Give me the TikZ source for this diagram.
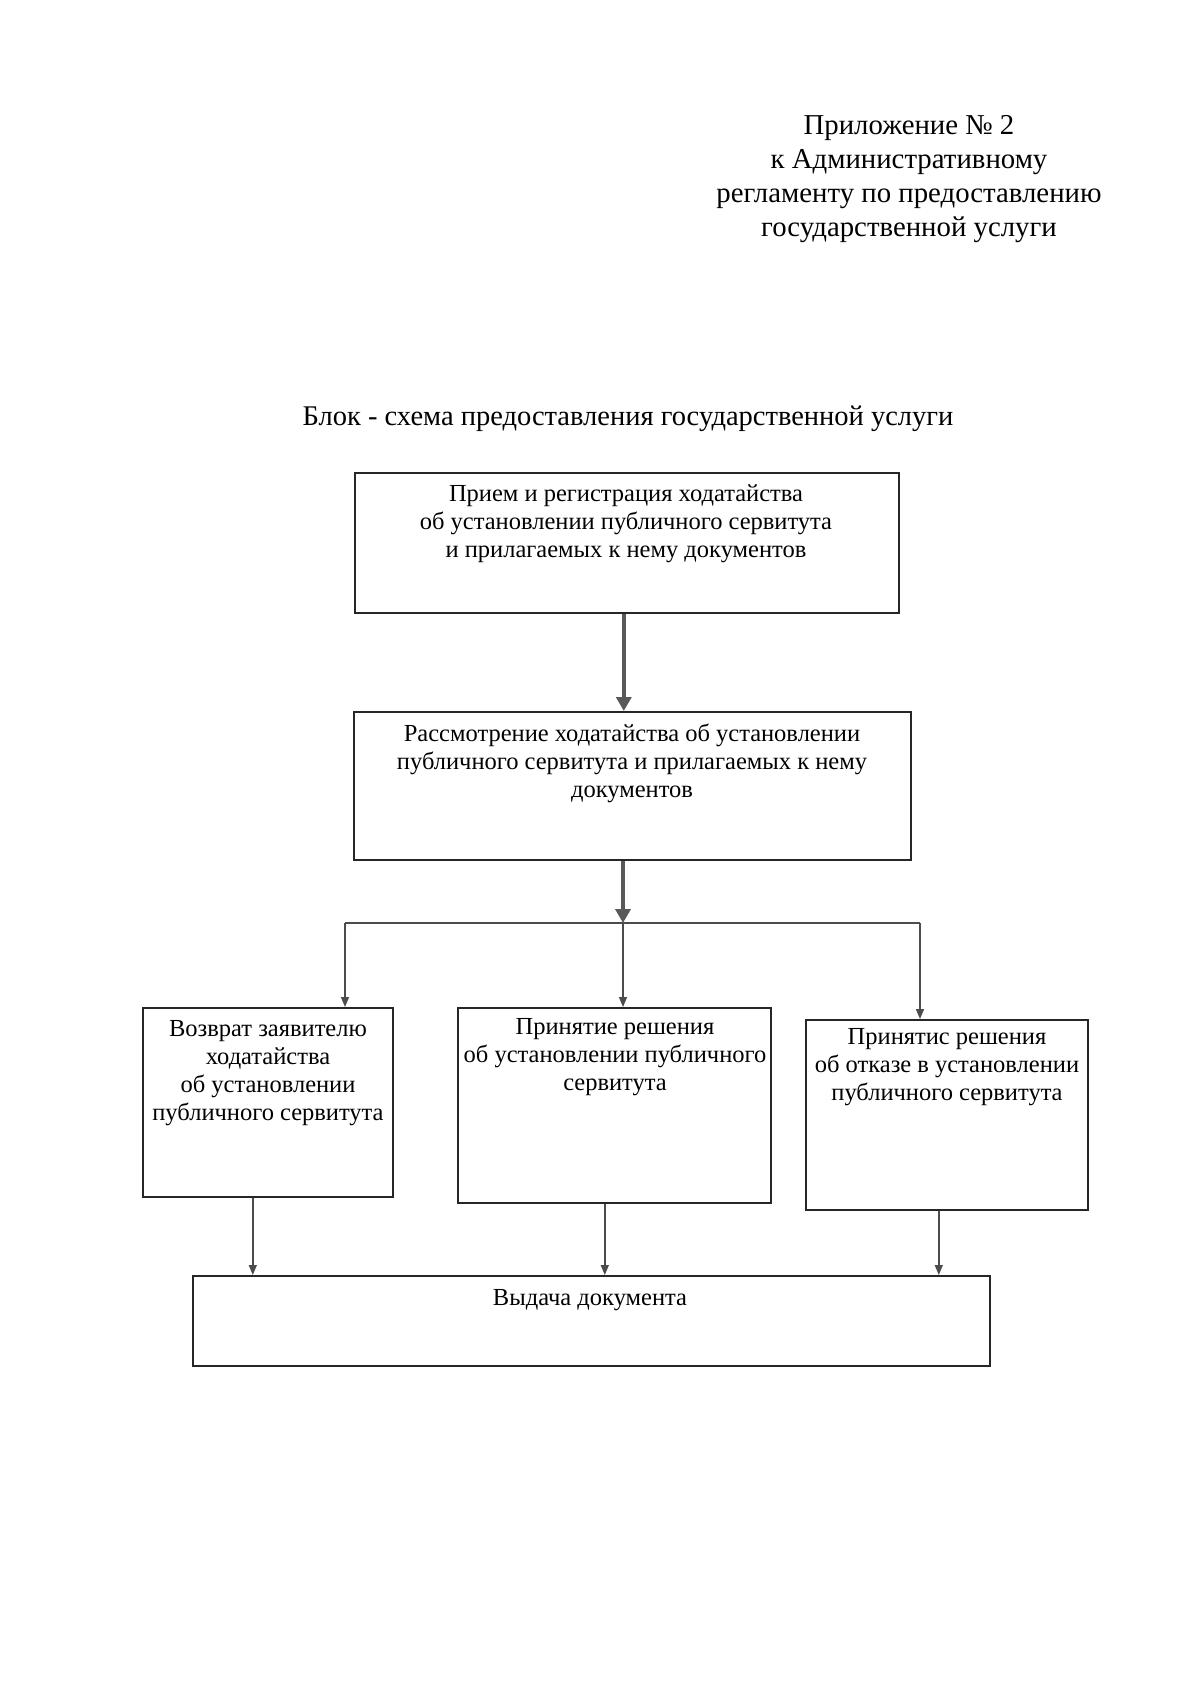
\documentclass[tikz,border=0pt]{standalone}
\usepackage{fontspec}
\setmainfont{Liberation Serif}
\usetikzlibrary{arrows.meta}
\begin{document}
\begin{tikzpicture}[x=1pt,y=-1pt,
  box/.style={draw=black!85, line width=1.6pt, rectangle, inner sep=0pt, anchor=north west},
  txt/.style={anchor=north, align=center, inner sep=0pt, font=\fontsize{24.5}{28}\selectfont},
  thickarr/.style={draw=gray!70!black, line width=4.5pt, -{Triangle[length=14pt,width=15pt]}},
  thinline/.style={draw=gray!60!black, line width=1.4pt},
  thinarr/.style={thinline, -{Triangle[length=10pt,width=8pt]}},
]
\useasboundingbox (0,0) rectangle (1200,1698);
\fill[white] (0,0) rectangle (1200,1698);

% header
\node[anchor=north, align=center, inner sep=0pt, font=\fontsize{28.8}{34}\selectfont] (hdr) at (909,115)
  {Приложение № 2\\к Административному\\регламенту по предоставлению\\государственной услуги};
\node[anchor=base, inner sep=0pt, font=\fontsize{28.5}{32}\selectfont] (title) at (628,425)
  {Блок - схема предоставления государственной услуги};

% boxes
\node[box, minimum width=544pt, minimum height=140pt] (b1) at (354,472) {};
\node[box, minimum width=557pt, minimum height=148pt] (b2) at (353,711) {};
\node[box, minimum width=250pt, minimum height=189pt] (b3) at (142,1007) {};
\node[box, minimum width=313pt, minimum height=195pt] (b4) at (457,1007) {};
\node[box, minimum width=282pt, minimum height=190pt] (b5) at (805,1019) {};
\node[box, minimum width=797pt, minimum height=90pt] (b6) at (192,1275) {};

% texts
\node[txt] (t1) at (626,485) {Прием и регистрация ходатайства\\об установлении публичного сервитута\\и прилагаемых к нему документов};
\node[txt] (t2) at (632,724) {Рассмотрение ходатайства об установлении\\публичного сервитута и прилагаемых к нему\\документов};
\node[txt] (t3) at (268,1020) {Возврат заявителю\\ходатайства\\об установлении\\публичного сервитута};
\node[txt] (t4) at (615,1018) {Принятие решения\\об установлении публичного\\сервитута};
\node[txt] (t5) at (947,1028) {Принятис решения\\об отказе в установлении\\публичного сервитута};
\node[txt] (t6) at (590,1289) {Выдача документа};

% connectors
\draw[thickarr] ([xshift=-3pt]b1.south) -- ([xshift=-3pt]b1.south |- b2.north);
\coordinate (j) at (623,923);
\coordinate (jl) at (345,923);
\coordinate (jr) at (920,923);
\draw[thinline] (jl) -- (jr);
\draw[thickarr] (b2.south -| j) -- (j);
\draw[thinarr] (jl) -- (jl |- b3.north);
\draw[thinarr] (j) -- (j |- b4.north);
\draw[thinarr] (jr) -- (jr |- b5.north);
\draw[thinarr] ([xshift=-15pt]b3.south) -- ([xshift=-15pt]b3.south |- b6.north);
\draw[thinarr] ([xshift=-9.5pt]b4.south) -- ([xshift=-9.5pt]b4.south |- b6.north);
\draw[thinarr] ([xshift=-8pt]b5.south) -- ([xshift=-8pt]b5.south |- b6.north);
\end{tikzpicture}
\end{document}
